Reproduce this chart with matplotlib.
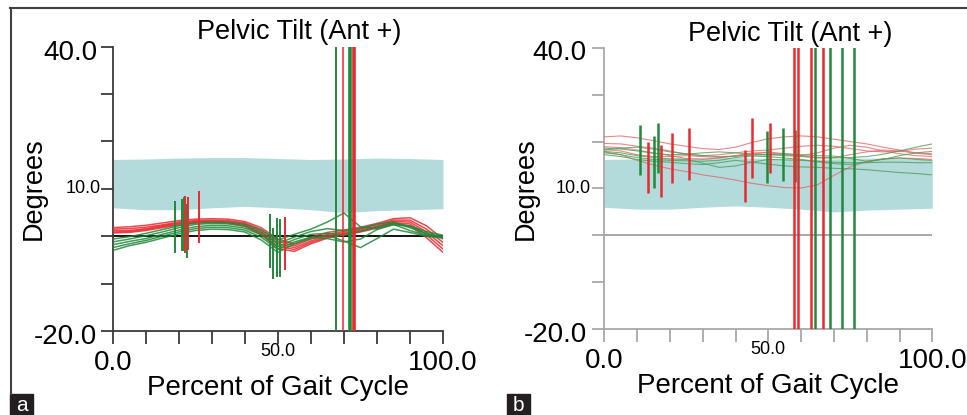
import matplotlib
matplotlib.use("Agg")
import matplotlib.pyplot as plt
import matplotlib.transforms as mtrans
from matplotlib.lines import Line2D
from matplotlib.patches import Rectangle

plt.rcParams['font.family'] = ['Liberation Sans', 'DejaVu Sans']

# gait cycle samples (percent)
pct = list(range(0, 101, 5))

# normal reference band (degrees)
band_x = [0, 10, 20, 30, 40, 50, 60, 70, 80, 90, 100]
band_lo = [6.0, 5.6, 5.6, 6.0, 6.3, 6.0, 5.6, 5.0, 5.4, 5.6, 5.8]
band_hi = [16.2, 16.3, 16.5, 16.6, 16.6, 16.4, 16.2, 16.3, 16.5, 16.4, 16.2]

# panel a: pelvic tilt trials
a_red = [
    [1.8, 2.0, 2.3, 2.8, 3.3, 3.6, 3.7, 3.6, 3.1, 1.8, -0.6, -1.6, -0.2, 0.8, 1.3, 1.9, 2.7, 3.7, 3.9, 2.2, -0.6],
    [1.5, 1.6, 1.9, 2.4, 3.0, 3.3, 3.4, 3.3, 2.8, 1.4, -1.1, -2.0, -0.6, 0.4, 1.0, 1.6, 2.4, 3.4, 3.4, 1.5, -1.3],
    [1.2, 1.2, 1.6, 2.2, 2.8, 3.1, 3.2, 3.1, 2.6, 1.0, -1.6, -2.4, -1.0, 0.1, 0.7, 1.3, 2.1, 3.1, 3.0, 0.9, -2.0],
    [0.9, 1.0, 1.4, 2.0, 2.6, 3.0, 3.0, 2.9, 2.3, 0.6, -2.1, -2.8, -1.3, -0.2, 0.5, 1.1, 1.9, 2.8, 2.6, 0.3, -2.7],
    [0.7, 0.8, 1.2, 1.8, 2.4, 2.8, 2.9, 2.8, 2.1, 0.3, -2.6, -3.2, -1.6, -0.4, 0.3, 0.9, 1.7, 2.6, 2.2, -0.3, -3.4],
]
a_green = [
    [-0.6, -0.1, 0.6, 1.4, 2.2, 2.8, 3.0, 2.9, 2.5, 1.3, -0.8, 0.4, 1.5, 3.0, 4.9, 2.0, 1.6, 2.4, 2.2, 1.0, 0.2],
    [-1.2, -0.6, 0.1, 0.9, 1.8, 2.5, 2.7, 2.6, 2.1, 0.8, -1.5, -0.2, 1.0, 1.6, 1.2, 1.6, 2.6, 3.0, 2.0, 0.6, -0.1],
    [-1.8, -1.1, -0.5, 0.4, 1.3, 2.0, 2.3, 2.2, 1.7, 0.3, -2.2, -0.7, 0.4, 0.6, 0.2, 1.0, 2.0, 2.8, 1.8, 0.5, -0.3],
    [-2.4, -1.6, -0.9, 0.0, 0.9, 1.6, 1.9, 1.8, 1.3, -0.2, -2.8, -1.2, -0.2, -0.5, -1.2, -0.6, 1.4, 2.5, 1.2, 0.2, 0.0],
    [-3.0, -2.0, -1.3, -0.4, 0.5, 1.2, 1.5, 1.4, 0.9, -0.8, -3.4, -1.6, -0.5, 0.2, -1.0, -2.4, -0.5, 1.5, 0.8, 0.0, -0.4],
]
a_red_ev_x = [22.0, 22.9, 26.1, 52.2]
a_red_ev_lo = [-3.5, -3.0, -1.4, -7.2]
a_red_ev_hi = [8.5, 8.3, 9.6, 4.1]
a_green_ev_x = [18.8, 20.9, 21.6, 22.4, 47.6, 48.6, 49.6, 50.7]
a_green_ev_lo = [-3.5, -3.1, -3.1, -4.5, -6.6, -9.1, -8.7, -8.7]
a_green_ev_hi = [7.5, 7.8, 8.2, 6.8, 4.6, 1.8, 3.9, 3.6]
a_red_full = [69.6, 73.0]
a_green_full = [67.5, 71.9]

# panel b
b_red = [
    [21.0, 21.2, 20.8, 20.2, 19.5, 19.0, 18.5, 18.3, 18.8, 19.8, 20.6, 21.0, 21.2, 21.0, 20.5, 20.0, 19.5, 18.8, 18.2, 17.6, 17.4],
    [19.6, 19.5, 19.0, 18.6, 18.0, 17.3, 17.0, 17.2, 17.6, 18.0, 18.2, 18.6, 19.0, 19.2, 19.0, 18.5, 18.0, 17.8, 17.9, 18.4, 18.6],
    [18.3, 18.0, 17.2, 16.8, 16.8, 17.0, 16.8, 16.6, 16.9, 17.3, 17.8, 17.4, 17.0, 16.5, 16.6, 17.2, 17.8, 18.2, 18.0, 17.5, 17.2],
    [17.8, 17.2, 16.0, 15.0, 14.2, 13.6, 12.9, 12.4, 11.8, 11.1, 10.6, 10.2, 10.1, 10.8, 12.8, 14.6, 15.8, 16.3, 16.5, 16.4, 16.2],
    [18.9, 18.7, 18.2, 17.6, 17.0, 16.4, 16.2, 16.5, 17.0, 17.6, 17.6, 17.2, 17.0, 17.6, 18.6, 19.2, 18.8, 18.0, 17.4, 17.0, 16.8],
]
b_green = [
    [18.6, 18.4, 18.0, 17.5, 17.2, 17.3, 17.6, 17.8, 17.6, 17.3, 17.2, 17.0, 16.8, 16.6, 16.5, 16.6, 16.8, 17.3, 18.0, 18.8, 19.5],
    [18.2, 18.6, 18.8, 18.4, 17.8, 17.4, 17.0, 16.8, 16.9, 17.1, 17.2, 17.4, 17.2, 17.0, 16.9, 16.4, 15.8, 16.2, 17.0, 17.6, 17.9],
    [17.6, 17.2, 16.6, 16.2, 16.0, 15.9, 15.8, 16.0, 16.6, 16.9, 16.8, 16.5, 16.2, 15.7, 15.3, 15.1, 15.6, 16.3, 16.5, 16.2, 16.0],
    [17.2, 16.8, 16.2, 15.8, 15.6, 15.3, 15.1, 15.5, 16.0, 15.6, 15.2, 14.8, 14.6, 14.5, 14.3, 14.2, 14.0, 13.7, 13.4, 13.2, 12.9],
    [17.9, 17.6, 17.0, 16.6, 16.3, 16.2, 15.4, 14.5, 14.8, 15.6, 16.2, 16.1, 16.0, 15.8, 15.6, 15.5, 15.5, 15.6, 15.6, 15.5, 15.5],
]
b_red_ev_x = [13.4, 17.3, 20.5, 25.9, 42.9, 44.9, 50.6]
b_red_ev_lo = [9.0, 8.1, 11.1, 11.8, 7.2, 12.2, 13.2]
b_red_ev_hi = [20.0, 19.3, 21.9, 22.8, 18.2, 25.0, 24.0]
b_green_ev_x = [10.9, 15.2, 16.5, 49.6, 54.6, 58.1]
b_green_ev_lo = [12.9, 10.2, 13.2, 11.2, 11.7, 11.4]
b_green_ev_hi = [23.5, 21.2, 24.0, 22.3, 22.8, 22.5]
b_red_full = [57.7, 59.2, 62.9, 66.7]
b_green_full = [64.3, 68.9, 72.6, 76.0]

BAND = "#b3dbdc"
RED = "#e82a2f"
GREEN = "#21893a"

W, H = 967, 415
fig = plt.figure(figsize=(W / 100, H / 100), dpi=100)


def px_axes(l, t, r, b):
    return fig.add_axes([l / W, 1 - b / H, (r - l) / W, (b - t) / H])


def dress(ax, axcol, ylab_x, big_dy):
    ax.set_xlim(0, 100)
    ax.set_ylim(-20, 40)
    for s in ["top", "right"]:
        ax.spines[s].set_visible(False)
    for s in ["left", "bottom"]:
        ax.spines[s].set_color(axcol)
        ax.spines[s].set_linewidth(1.3)
    ax.set_xticks(range(0, 101, 10))
    ax.set_yticks(range(-20, 41, 10))
    ax.tick_params(length=9, width=1.3, color=axcol, labelleft=False, labelbottom=False)
    ax.set_facecolor("none")
    down = mtrans.ScaledTranslation(0, -big_dy / 100, fig.dpi_scale_trans)
    yt = ax.get_yaxis_transform()
    xt = ax.get_xaxis_transform()
    ax.text(ylab_x, 40, "40.0", fontsize=20, ha="right", va="center", transform=yt + down, clip_on=False)
    ax.text(ylab_x, -20, "-20.0", fontsize=20, ha="right", va="center", transform=yt + down, clip_on=False)
    ax.text(ylab_x + 0.012, 10, "10.0", fontsize=13, ha="right", va="center", transform=yt, clip_on=False)
    ax.text(0, -0.113, "0.0", fontsize=20, ha="center", va="center", transform=xt, clip_on=False)
    ax.text(50, -0.072, "50.0", fontsize=13, ha="center", va="center", transform=xt, clip_on=False)
    ax.text(100, -0.113, "100.0", fontsize=20, ha="center", va="center", transform=xt, clip_on=False)
    ax.text(0.566, 1.05, "Pelvic Tilt (Ant +)", fontsize=19.5, ha="center", va="center",
            transform=ax.transAxes, clip_on=False)
    ax.text(0.499, -0.2, "Percent of Gait Cycle", fontsize=20, ha="center", va="center",
            transform=ax.transAxes, clip_on=False)


# ---- panel a ----
ax1 = px_axes(112.7, 46.7, 443.0, 331.0)
ax1.fill_between(band_x, band_lo, band_hi, color=BAND, lw=0, zorder=1)
ax1.axhline(0, color="black", lw=1.3, zorder=2)
for ys in a_red:
    ax1.plot(pct, ys, color=RED, lw=1.1, alpha=0.85, zorder=3)
for ys in a_green:
    ax1.plot(pct, ys, color=GREEN, lw=1.1, alpha=0.85, zorder=3)
ax1.vlines(a_green_ev_x, a_green_ev_lo, a_green_ev_hi, color=GREEN, lw=1.4, zorder=4)
ax1.vlines(a_red_ev_x, a_red_ev_lo, a_red_ev_hi, color=RED, lw=1.4, zorder=4)
ax1.axvline(a_green_full[0], color=GREEN, lw=1.4, zorder=4)
ax1.axvline(a_red_full[0], color=RED, lw=1.4, alpha=0.8, zorder=4)
ax1.axvline(a_green_full[1], color=GREEN, lw=2.6, zorder=4)
ax1.axvline(a_red_full[1], color=RED, lw=2.6, zorder=4)
dress(ax1, "#3a3a3a", -0.047, 6)
ax1.text(-0.24, 0.5, "Degrees", fontsize=19.5, rotation=90, ha="center", va="center",
         transform=ax1.transAxes, clip_on=False)

# ---- panel b ----
ax2 = px_axes(604.3, 47.7, 932.3, 329.3)
ax2.fill_between(band_x, band_lo, band_hi, color=BAND, lw=0, zorder=1)
ax2.axhline(0, color="#a0a0a0", lw=1.3, zorder=2)
for ys in b_red:
    ax2.plot(pct, ys, color="#e06a6a", lw=0.8, alpha=0.8, zorder=3)
for ys in b_green:
    ax2.plot(pct, ys, color="#4f9e58", lw=0.8, alpha=0.8, zorder=3)
ax2.vlines(b_green_ev_x, b_green_ev_lo, b_green_ev_hi, color=GREEN, lw=1.8, zorder=4)
ax2.vlines(b_red_ev_x, b_red_ev_lo, b_red_ev_hi, color=RED, lw=1.8, zorder=4)
for xv in b_red_full:
    ax2.axvline(xv, color=RED, lw=1.8, zorder=4)
for xv in b_green_full:
    ax2.axvline(xv, color=GREEN, lw=1.8, zorder=4)
dress(ax2, "#a8a8a8", -0.053, 5.6)
ax2.text(-0.239, 0.5, "Degrees", fontsize=19.5, rotation=90, ha="center", va="center",
         transform=ax2.transAxes, clip_on=False)

# frame and panel letters
fig.add_artist(Line2D([10 / W, 1], [1 - 8 / H, 1 - 8 / H], color="#404040", lw=1.5, transform=fig.transFigure))
fig.add_artist(Line2D([10.5 / W, 10.5 / W], [1 - 8 / H, 1 - 394 / H], color="#404040", lw=1.5, transform=fig.transFigure))
for lx, letter in [(10, "a"), (507, "b")]:
    fig.add_artist(Rectangle((lx / W, 0), 23 / W, 21.5 / H, color="#231f20", transform=fig.transFigure))
    fig.text((lx + 11.5) / W, 10 / H, letter, color="white", fontsize=15, ha="center", va="center")

fig.savefig("out.png", dpi=100)
